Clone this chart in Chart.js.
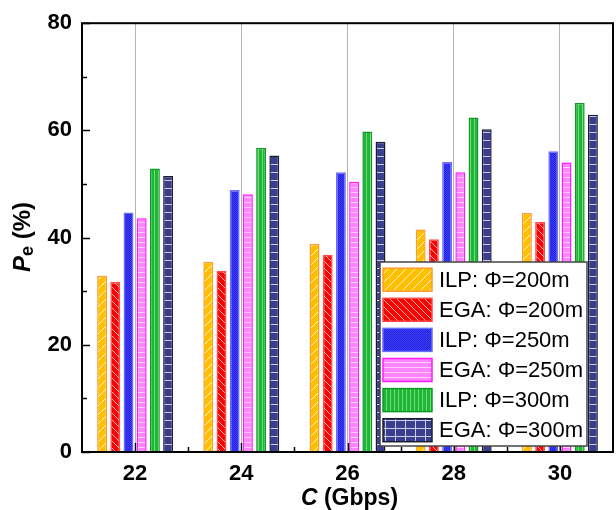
<!DOCTYPE html>
<html>
<head>
<meta charset="utf-8">
<script src="https://cdn.jsdelivr.net/npm/chart.js@4.4.0/dist/chart.umd.min.js"></script>
<style>
    body { margin: 0; background: #fff; }
    canvas { display: block; }
</style>
</head>
<body>
<canvas id="grafico" width="616" height="510"></canvas>
<script>
// ==================== DADOS ====================

const categorias = ['22', '24', '26', '28', '30'];
const nomesSeries = ['ILP: Φ=200m', 'EGA: Φ=200m', 'ILP: Φ=250m', 'EGA: Φ=250m', 'ILP: Φ=300m', 'EGA: Φ=300m'];

const ilp200 = [32.9, 35.5, 38.8, 41.5, 44.6];
const ega200 = [31.7, 33.8, 36.8, 39.7, 42.9];
const ilp250 = [44.7, 48.9, 52.2, 54.1, 56.1];
const ega250 = [43.6, 48.1, 50.4, 52.2, 54.0];
const ilp300 = [52.9, 56.7, 59.8, 62.4, 65.1];
const ega300 = [51.5, 55.3, 57.9, 60.2, 62.9];

const ticksY = [0, 20, 40, 60, 80];
const ticksYMenores = [10, 30, 50, 70];

const FONTE = '"Liberation Sans", Arial, sans-serif';

// ==================== PADRÕES (HACHURAS) ====================

function criarPadrao(largura, altura, desenhar) {
    const c = document.createElement('canvas');
    c.width = largura;
    c.height = altura;
    const g = c.getContext('2d');
    desenhar(g, largura, altura);
    return g.createPattern(c, 'repeat');
}

function diagonal(base, linha, passo, invertida) {
    return criarPadrao(passo, passo, (g, w, h) => {
        g.fillStyle = base;
        g.fillRect(0, 0, w, h);
        g.strokeStyle = linha;
        g.lineWidth = 1;
        g.beginPath();
        if (invertida) {
            g.moveTo(-1, -1); g.lineTo(w + 1, h + 1);
            g.moveTo(w - 1, -1); g.lineTo(w + 1, 1);
            g.moveTo(-1, h - 1); g.lineTo(1, h + 1);
        } else {
            g.moveTo(-1, h + 1); g.lineTo(w + 1, -1);
            g.moveTo(-1, 1); g.lineTo(1, -1);
            g.moveTo(w - 1, h + 1); g.lineTo(w + 1, h - 1);
        }
        g.stroke();
    });
}

const padraoLaranja = diagonal('#FFC000', 'rgba(255,255,255,0.8)', 9, false);
const padraoVermelho = diagonal('#FF0000', 'rgba(255,255,255,0.75)', 7, true);

const padraoAzul = criarPadrao(2, 2, (g) => {
    g.fillStyle = '#3C3CFF';
    g.fillRect(0, 0, 2, 2);
    g.fillStyle = '#2424D6';
    g.fillRect(0, 0, 1, 1);
    g.fillRect(1, 1, 1, 1);
});

const padraoRosa = criarPadrao(4, 5, (g) => {
    g.fillStyle = '#FF85FF';
    g.fillRect(0, 0, 4, 5);
    g.fillStyle = '#FFD0FF';
    g.fillRect(0, 2, 4, 1);
});

const padraoVerde = criarPadrao(4, 4, (g) => {
    g.fillStyle = '#1FB535';
    g.fillRect(0, 0, 4, 4);
    g.fillStyle = '#6EDC7B';
    g.fillRect(2, 0, 1, 4);
});

const padraoMarinho = criarPadrao(4, 8, (g) => {
    g.fillStyle = '#3B3E8F';
    g.fillRect(0, 0, 4, 8);
    g.fillStyle = '#C9CBEA';
    g.fillRect(0, 4, 4, 1);
});

// legenda do EGA 300m mostra uma grade
const padraoMarinhoLegenda = criarPadrao(10, 8, (g) => {
    g.fillStyle = '#3B3E8F';
    g.fillRect(0, 0, 10, 8);
    g.fillStyle = '#C9CBEA';
    g.fillRect(0, 4, 10, 1);
    g.fillRect(5, 0, 1, 8);
});

const valoresSeries = [ilp200, ega200, ilp250, ega250, ilp300, ega300];
const preenchimentos = [padraoLaranja, padraoVermelho, padraoAzul, padraoRosa, padraoVerde, padraoMarinho];
const preenchLegenda = [padraoLaranja, padraoVermelho, padraoAzul, padraoRosa, padraoVerde, padraoMarinhoLegenda];
const bordas = ['#FF9A2E', '#FF4A4A', '#6A6AFF', '#FF1AFF', '#0F9A26', '#1C1C30'];

// ==================== PLUGIN: MOLDURA, TÍTULOS, LEGENDA ====================

const pluginMoldura = {
    id: 'moldura',
    afterDatasetsDraw(chart) {
        const ctx = chart.ctx;
        const area = chart.chartArea;
        const sx = chart.scales.x;
        const sy = chart.scales.y;

        ctx.save();
        ctx.strokeStyle = '#000';
        ctx.lineWidth = 1.5;
        ctx.beginPath();
        // ticks do eixo Y (para dentro)
        ticksY.forEach(v => {
            const y = Math.round(sy.getPixelForValue(v)) + 0.5;
            ctx.moveTo(area.left, y); ctx.lineTo(area.left + 8, y);
        });
        ticksYMenores.forEach(v => {
            const y = Math.round(sy.getPixelForValue(v)) + 0.5;
            ctx.moveTo(area.left, y); ctx.lineTo(area.left + 5, y);
        });
        // ticks do eixo X
        categorias.forEach((c, i) => {
            const x = Math.round(sx.getPixelForValue(i)) + 0.5;
            ctx.moveTo(x, area.bottom); ctx.lineTo(x, area.bottom - 9);
            if (i < categorias.length - 1) {
                const xm = Math.round((sx.getPixelForValue(i) + sx.getPixelForValue(i + 1)) / 2) + 0.5;
                ctx.moveTo(xm, area.bottom); ctx.lineTo(xm, area.bottom - 5);
            }
        });
        ctx.stroke();

        // moldura
        ctx.lineWidth = 2;
        ctx.strokeRect(area.left, area.top, area.right - area.left, area.bottom - area.top);

        // título do eixo X: C (Gbps)
        ctx.fillStyle = '#000';
        ctx.textBaseline = 'middle';
        const fC = 'italic bold 23px ' + FONTE;
        const fT = 'bold 23px ' + FONTE;
        ctx.font = fC;
        const wC = ctx.measureText('C').width;
        ctx.font = fT;
        const wR = ctx.measureText(' (Gbps)').width;
        let x0 = (area.left + area.right) / 2 + 2 - (wC + wR) / 2;
        ctx.font = fC;
        ctx.fillText('C', x0, 499);
        ctx.font = fT;
        ctx.fillText(' (Gbps)', x0 + wC, 499);

        // título do eixo Y: Pe (%)
        ctx.translate(23, 237);
        ctx.rotate(-Math.PI / 2);
        const partes = [
            { t: 'P', f: 'italic bold 24px ' + FONTE, dy: 0 },
            { t: 'e', f: 'bold 18px ' + FONTE, dy: 5 },
            { t: ' (%)', f: 'bold 24px ' + FONTE, dy: 0 }
        ];
        let total = 0;
        partes.forEach(p => { ctx.font = p.f; p.w = ctx.measureText(p.t).width; total += p.w; });
        let px = -total / 2;
        partes.forEach(p => {
            ctx.font = p.f;
            ctx.fillText(p.t, px, p.dy);
            px += p.w;
        });
        ctx.restore();

        desenharLegenda(chart);
    }
};

function desenharLegenda(chart) {
    const ctx = chart.ctx;
    const caixa = { x: 380, y: 262, w: 207, h: 184 };

    ctx.save();
    ctx.fillStyle = '#fff';
    ctx.fillRect(caixa.x, caixa.y, caixa.w, caixa.h);
    ctx.strokeStyle = '#444';
    ctx.lineWidth = 1.5;
    ctx.strokeRect(caixa.x, caixa.y, caixa.w, caixa.h);

    ctx.font = '22px ' + FONTE;
    ctx.textBaseline = 'middle';
    chart.data.datasets.forEach((ds, i) => {
        const cy = 279.7 + i * 30.1;
        ctx.fillStyle = preenchLegenda[i];
        ctx.fillRect(383, cy - 11.5, 49, 23);
        ctx.strokeStyle = bordas[i];
        ctx.lineWidth = 1.5;
        ctx.strokeRect(383, cy - 11.5, 49, 23);
        ctx.fillStyle = '#000';
        ctx.fillText(ds.label, 439, cy + 1);
    });
    ctx.restore();
}

// ==================== CRIAR GRÁFICO ====================

function criarGrafico() {
    const ctx = document.getElementById('grafico');

    const datasets = valoresSeries.map((valores, i) => ({
        label: nomesSeries[i],
        data: valores,
        backgroundColor: preenchimentos[i],
        borderColor: bordas[i],
        borderWidth: 1.5,
        borderSkipped: 'start',
        categoryPercentage: 0.746,
        barPercentage: 0.75
    }));

    window.chartBarras = new Chart(ctx, {
        type: 'bar',
        data: {
            labels: categorias,
            datasets: datasets
        },
        options: {
            responsive: false,
            animation: false,
            devicePixelRatio: 1,
            layout: {
                padding: { top: 21, right: 3, left: 0, bottom: 0 }
            },
            plugins: {
                legend: { display: false },
                tooltip: { enabled: false }
            },
            scales: {
                x: {
                    offset: true,
                    afterFit: (escala) => { escala.height = 58; },
                    grid: {
                        offset: false,
                        color: '#b4b4b4',
                        lineWidth: 1,
                        drawTicks: false
                    },
                    border: { display: false },
                    ticks: {
                        color: '#000',
                        padding: 9,
                        font: { family: FONTE, size: 22, weight: 'bold' }
                    }
                },
                y: {
                    min: 0,
                    max: 80,
                    afterFit: (escala) => { escala.width = 82; },
                    afterBuildTicks: (escala) => {
                        escala.ticks = ticksY.map(v => ({ value: v }));
                    },
                    grid: { display: false, drawTicks: false },
                    border: { display: false },
                    ticks: {
                        color: '#000',
                        padding: 10,
                        font: { family: FONTE, size: 22, weight: 'bold' }
                    }
                }
            }
        },
        plugins: [pluginMoldura]
    });
}

criarGrafico();
console.log('Gráfico pronto');
</script>
</body>
</html>
